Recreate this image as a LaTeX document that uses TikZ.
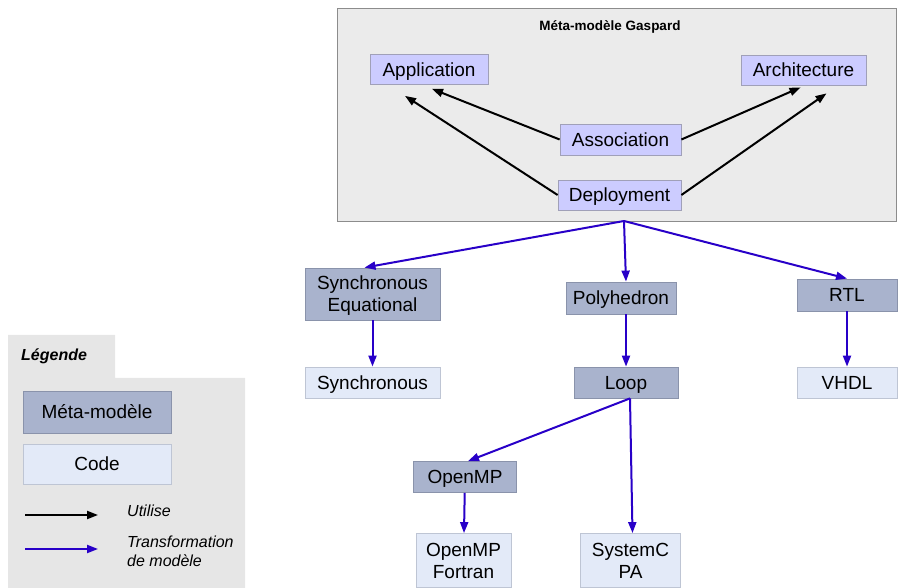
\documentclass[tikz,border=0pt]{standalone}
\usepackage{fontspec}
\setmainfont{Liberation Sans}
\usepackage{tikz}
\usetikzlibrary{arrows.meta}

\definecolor{boxgray}{HTML}{EBEBEB}
\definecolor{boxedge}{HTML}{8C8C8C}
\definecolor{umlfill}{HTML}{CCCCFF}
\definecolor{umledge}{HTML}{A0A0B8}
\definecolor{metafill}{HTML}{A9B3CD}
\definecolor{metaedge}{HTML}{8A93AB}
\definecolor{codefill}{HTML}{E3EAF8}
\definecolor{codeedge}{HTML}{BEC5D4}
\definecolor{legfill}{HTML}{E6E6E6}
\definecolor{trblue}{HTML}{2800C8}

\begin{document}
\begin{tikzpicture}[x=1pt,y=-1pt,
  txt/.style={font=\fontsize{19}{22}\selectfont,align=center,inner sep=0pt,text depth=0pt},
  one/.style={text height=13.6pt},
  uml/.style={txt,one,draw=umledge,fill=umlfill,line width=0.8pt,minimum height=30pt},
  meta/.style={txt,draw=metaedge,fill=metafill,line width=0.8pt,minimum height=31pt},
  code/.style={txt,draw=codeedge,fill=codefill,line width=0.8pt,minimum height=31pt},
  use/.style={-{Triangle[length=11pt,width=8pt]},line width=2pt},
  trans/.style={use,draw=trblue,-{Triangle[length=11pt,width=8pt,fill=trblue]}},
  legtxt/.style={font=\fontsize{16}{19}\selectfont\itshape,align=left,anchor=west,inner sep=0pt}]
\useasboundingbox (0,0) rectangle (898,588);

% meta-model Gaspard
\node[draw=boxedge,fill=boxgray,line width=0.8pt,minimum width=559pt,minimum height=213pt] (gaspard) at (616.5,114.5) {};
\node[font=\fontsize{13.5}{16}\selectfont\bfseries] (title) at (610,27) {Méta-modèle Gaspard};
\node[uml,minimum width=118pt] (application) at (429,69.5) {Application};
\node[uml,minimum width=125pt] (architecture) at (803.5,70) {Architecture};
\node[uml,minimum width=121pt,minimum height=31pt] (association) at (620.5,139.5) {Association};
\node[uml,minimum width=123pt] (deployment) at (619.5,195) {Deployment};
\draw[use] (association.west) -- ([xshift=3pt,yshift=-4pt]application.south);
\draw[use] (deployment.west) -- ([xshift=-24pt,yshift=-11pt]application.south);
\draw[use] (association.east) -- ([xshift=-3pt,yshift=-2pt]architecture.south);
\draw[use] (deployment.east) -- ([xshift=23pt,yshift=-8pt]architecture.south);

% transformations
\coordinate (fork) at (624,221);
\node[meta,minimum width=135pt,minimum height=52pt] (synceq) at (372.5,294) {Synchronous\\Equational};
\node[meta,one,minimum width=110pt,minimum height=32pt] (polyhedron) at (621,298) {Polyhedron};
\node[meta,one,minimum width=100pt,minimum height=32pt] (rtl) at (847,295) {RTL};
\node[code,one,minimum width=135pt] (synchronous) at (372.5,382.5) {Synchronous};
\node[meta,one,minimum width=104pt] (loop) at (626,382.5) {Loop};
\node[code,one,minimum width=100pt] (vhdl) at (847,382.5) {VHDL};
\node[meta,one,minimum width=103pt] (openmp) at (465,477) {OpenMP};
\node[code,minimum width=95pt,minimum height=54pt] (fortran) at (463.5,560.5) {OpenMP\\Fortran};
\node[code,minimum width=100pt,minimum height=54pt] (systemc) at (630.5,560.5) {SystemC\\PA};
\draw[trans] (fork) -- ([xshift=-8pt]synceq.north);
\draw[trans] (fork) -- ([xshift=5pt]polyhedron.north);
\draw[trans] (fork) -- (rtl.north);
\draw[trans] (synceq) -- (synchronous);
\draw[trans] (polyhedron.south -| loop) -- (loop);
\draw[trans] (rtl) -- (vhdl);
\draw[trans] ([xshift=4pt]loop.south) -- ([xshift=3pt]openmp.north);
\draw[trans] ([xshift=4pt]loop.south) -- ([xshift=2pt]systemc.north);
\draw[trans] (openmp) -- (fortran);

% legend
\fill[legfill] (8,335) rectangle (115,378) (8,378) rectangle (245,588);
\node[font=\fontsize{16}{18}\selectfont\bfseries\itshape,anchor=west,inner sep=0pt] (legende) at (21,356) {Légende};
\node[meta,one,minimum width=148pt,minimum height=42pt] (legmeta) at (97,412) {Méta-modèle};
\node[code,one,minimum width=148pt,minimum height=40pt] (legcode) at (97,464) {Code};
\coordinate (u1) at (25,515);
\coordinate (u2) at (98,515);
\coordinate (t1) at (25,549);
\coordinate (t2) at (98,549);
\draw[use] (u1) -- (u2);
\draw[trans] (t1) -- (t2);
\node[legtxt] (utilise) at (127,511) {Utilise};
\node[legtxt] (transfo) at (127,551) {Transformation\\de modèle};
\end{tikzpicture}
\end{document}
